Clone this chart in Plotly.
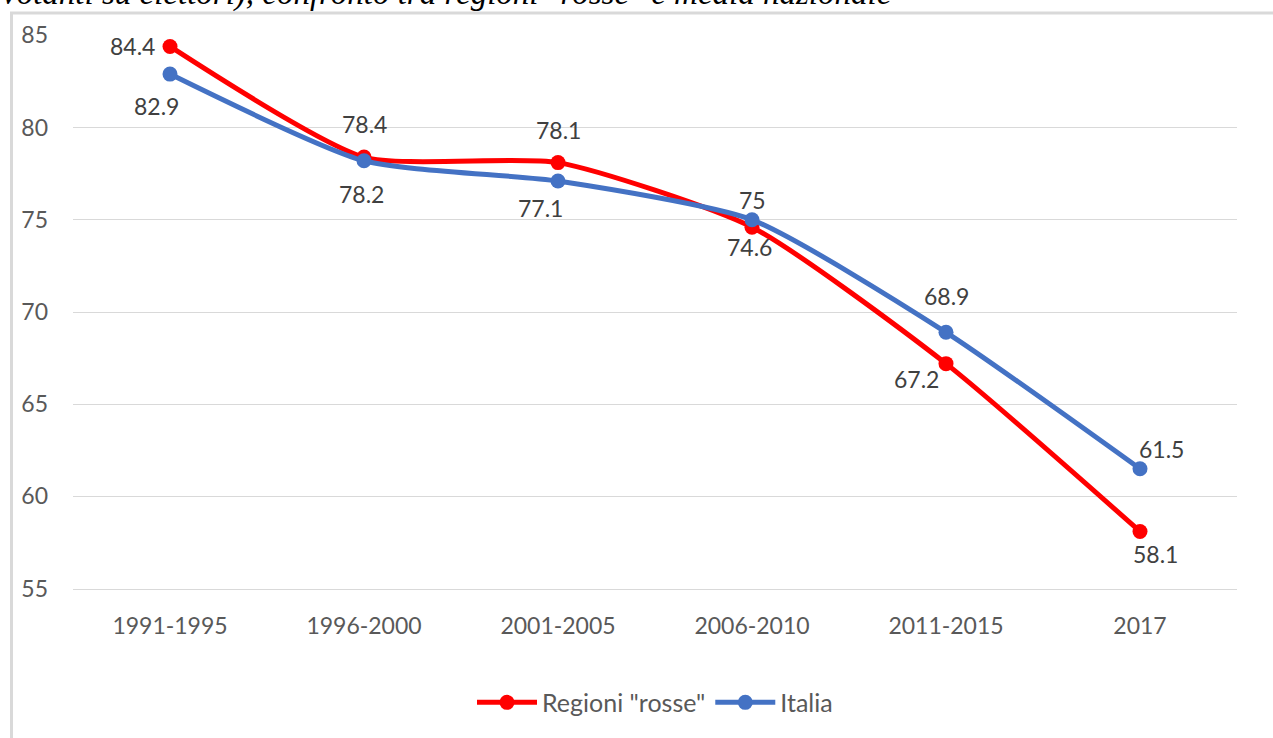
import plotly.graph_objects as go

# ---- data ----
categories = ["1991-1995", "1996-2000", "2001-2005", "2006-2010", "2011-2015", "2017"]
rosse = [84.4, 78.4, 78.1, 74.6, 67.2, 58.1]
italia = [82.9, 78.2, 77.1, 75.0, 68.9, 61.5]
series_names = ['Regioni "rosse"', "Italia"]
title_text = 'votanti su elettori), confronto tra regioni "rosse" e media nazionale'

# ---- style ----
RED = "#FF0000"
BLUE = "#4472C4"
W, H = 1273, 738
ML, MR, MT, MB = 73, 36, 35, 147
PW, PH = W - ML - MR, H - MT - MB
FONT = "Lato"

# label pixel offsets (dx, dy up)
red_off = [(-38, 0), (0, 33), (0, 33), (-3, -20), (-30, -15), (15, -23)]
blue_off = [(-14, -32), (-3, -33), (-18, -27), (0, 20), (0, 36), (21, 20)]


def px(x):
    return (x - ML) / PW


def py(y):
    return (H - MB - y) / PH


fig = go.Figure()
fig.add_trace(go.Scatter(
    x=categories, y=rosse, name=series_names[0], mode="lines+markers",
    line=dict(color=RED, width=5, shape="spline", smoothing=0.6),
    marker=dict(color=RED, size=15), hoverinfo="skip"))
fig.add_trace(go.Scatter(
    x=categories, y=italia, name=series_names[1], mode="lines+markers",
    line=dict(color=BLUE, width=5, shape="spline", smoothing=0.6),
    marker=dict(color=BLUE, size=15), hoverinfo="skip"))

annotations = []
for vals, offs in ((rosse, red_off), (italia, blue_off)):
    for i, (v, (dx, dy)) in enumerate(zip(vals, offs)):
        annotations.append(dict(
            x=i, y=v, xref="x", yref="y", text=f"{v:g}", showarrow=False,
            xshift=dx, yshift=dy, font=dict(family=FONT, size=23, color="#404040")))

annotations.append(dict(
    x=px(0), y=py(-7), xref="paper", yref="paper", xanchor="left", yanchor="middle",
    text=title_text, showarrow=False,
    font=dict(family="Liberation Serif", size=33, color="#000000", style="italic")))

shapes = [
    dict(type="line", xref="paper", yref="paper", x0=px(10), x1=px(W + 5), y0=py(13), y1=py(13),
         line=dict(color="#d9d9d9", width=3)),
    dict(type="line", xref="paper", yref="paper", x0=px(11.5), x1=px(11.5), y0=py(12), y1=py(H + 5),
         line=dict(color="#d9d9d9", width=3)),
]

fig.update_layout(
    width=W, height=H,
    margin=dict(l=ML, r=MR, t=MT, b=MB, pad=0),
    paper_bgcolor="white", plot_bgcolor="white",
    font=dict(family=FONT, color="#595959"),
    showlegend=True,
    legend=dict(orientation="h", x=0.5, xanchor="center", y=py(705), yanchor="middle",
                font=dict(family=FONT, size=25, color="#595959"), traceorder="normal",
                itemwidth=60),
    annotations=annotations,
    shapes=shapes,
)
fig.update_xaxes(
    type="category", range=[-0.5, 5.5], showgrid=False, showline=True,
    linecolor="#d9d9d9", linewidth=1, ticks="", ticklabelstandoff=16,
    tickfont=dict(family=FONT, size=23, color="#595959"), zeroline=False)
fig.update_yaxes(
    range=[54.98, 85.02], tickvals=[55, 60, 65, 70, 75, 80, 85], showgrid=True,
    gridcolor="#d9d9d9", gridwidth=1, showline=False, zeroline=False, ticks="",
    ticklabelstandoff=24, tickfont=dict(family=FONT, size=23, color="#595959"))

fig.write_html("out.html", config={"displayModeBar": False},
               post_script="document.body.style.margin='0';document.body.style.overflow='hidden';")
